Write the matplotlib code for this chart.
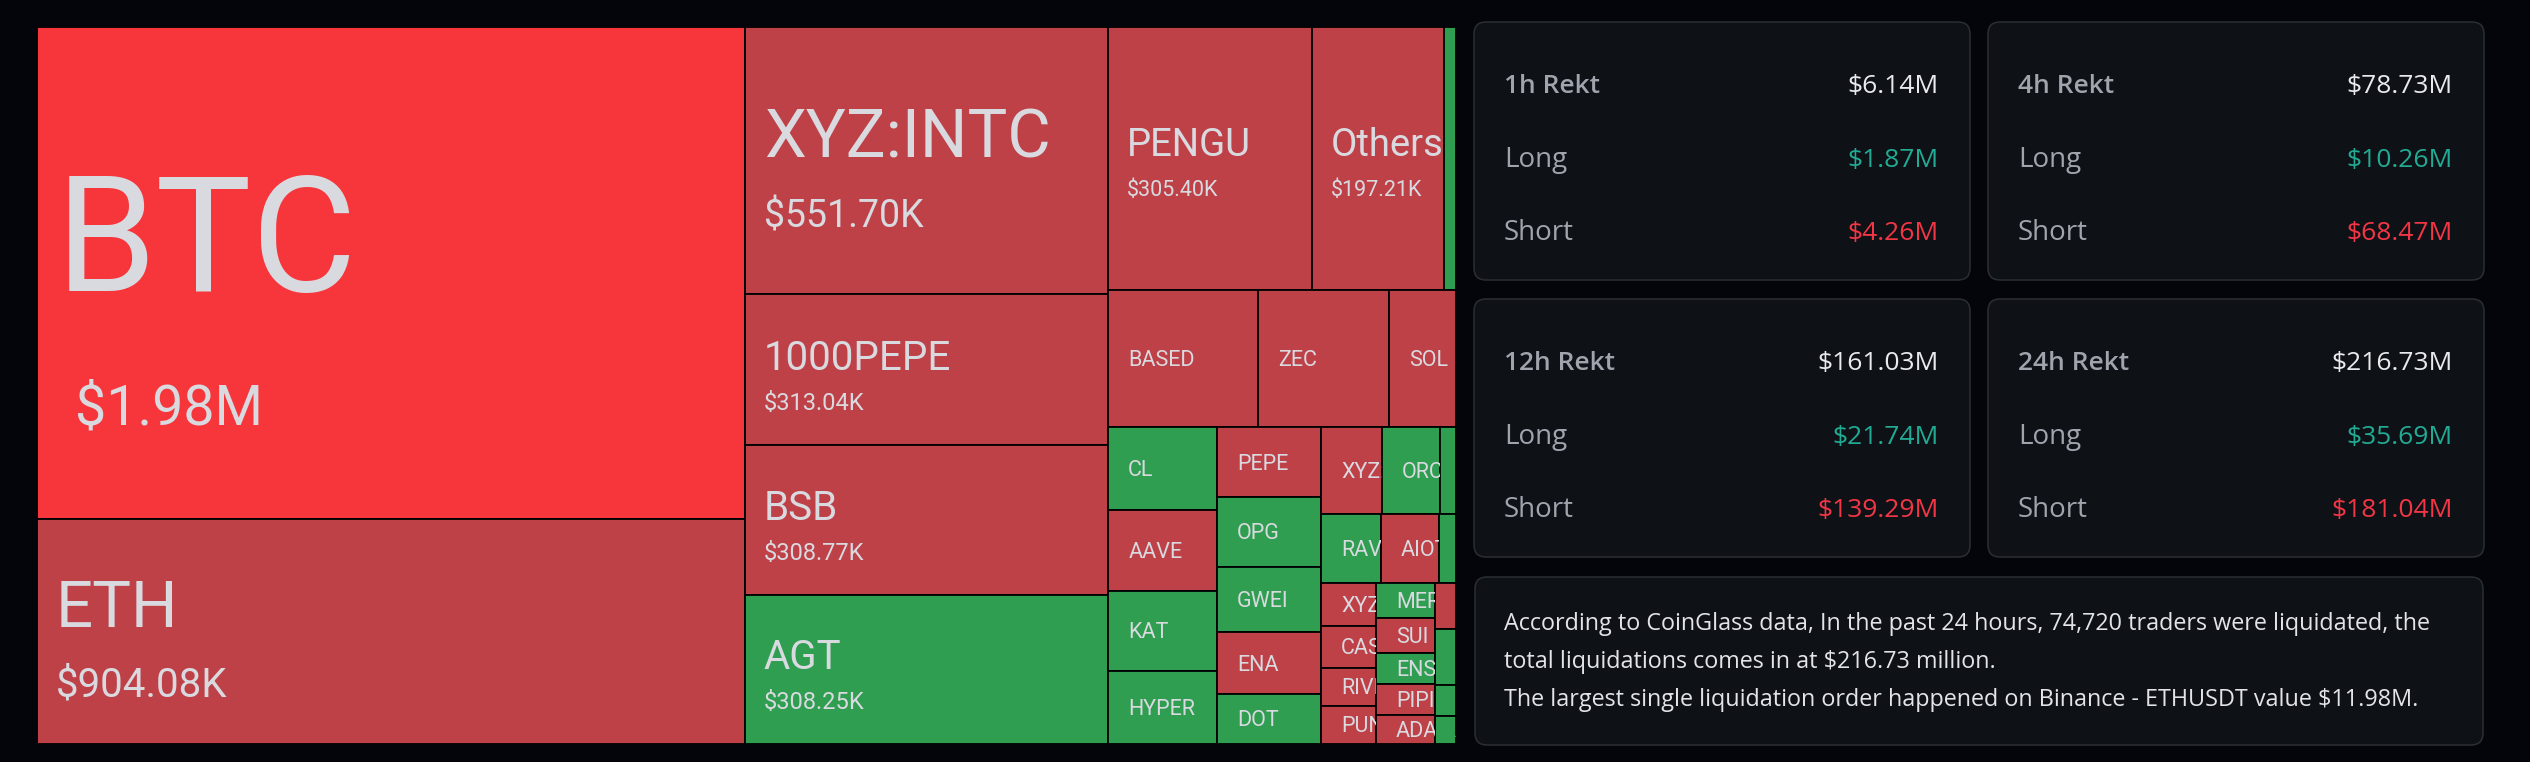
import matplotlib
matplotlib.use("Agg")
import matplotlib.pyplot as plt
from matplotlib.patches import Rectangle, FancyBboxPatch
from matplotlib.font_manager import FontProperties

W, H, DPI = 2530, 762, 100

# ---- treemap data (liquidations in $K) ----
NAMES = ["BTC", "ETH", "XYZ:INTC", "1000PEPE", "BSB", "AGT", "PENGU", "Others", "ARB",
         "BASED", "ZEC", "SOL", "CL", "AAVE", "KAT", "HYPER",
         "PEPE", "OPG", "GWEI", "ENA", "DOT", "XYZ:TSLA", "ORCA", "W",
         "RAVE", "AIOT", "TAO", "XYZ:NVDA", "CASH", "RIVER", "PUNDIX",
         "MERL", "SUI", "ENS", "PIPIN", "ADA", "IP", "1000SHIB", "SPX", "AVAX"]
VALUES_K = [1980, 904.08, 551.70, 313.04, 308.77, 308.25, 305.40, 197.21, 18,
            117, 102, 52, 51, 50.4, 49.2, 45.4,
            41, 41.6, 38.6, 36.2, 29.7, 30, 28.5, 7.9,
            23.6, 22.9, 6.7, 13.2, 13.2, 11.9, 11.9,
            11.8, 11.5, 10.4, 10.4, 9.8, 5.5, 6.6, 3.7, 3.4]
SIDES = ["S", "S", "S", "S", "S", "L", "S", "S", "L",
         "S", "S", "S", "L", "S", "L", "L",
         "S", "L", "L", "S", "L", "S", "L", "L",
         "L", "S", "L", "S", "S", "S", "S",
         "L", "S", "L", "S", "S", "S", "L", "L", "L"]

# nesting of the treemap: ("h", ...) splits left->right, ("v", ...) top->bottom
LAYOUT = ("h", [
    ("v", ["BTC", "ETH"]),
    ("v", ["XYZ:INTC", "1000PEPE", "BSB", "AGT"]),
    ("v", [
        ("h", ["PENGU", "Others", "ARB"]),
        ("h", ["BASED", "ZEC", "SOL"]),
        ("h", [
            ("v", ["CL", "AAVE", "KAT", "HYPER"]),
            ("v", ["PEPE", "OPG", "GWEI", "ENA", "DOT"]),
            ("v", [
                ("h", ["XYZ:TSLA", "ORCA", "W"]),
                ("h", ["RAVE", "AIOT", "TAO"]),
                ("h", [
                    ("v", ["XYZ:NVDA", "CASH", "RIVER", "PUNDIX"]),
                    ("v", ["MERL", "SUI", "ENS", "PIPIN", "ADA"]),
                    ("v", ["IP", "1000SHIB", "SPX", "AVAX"]),
                ]),
            ]),
        ]),
    ]),
])

# ---- rekt cards (in $M) ----
PERIODS = ["1h", "4h", "12h", "24h"]
TOTAL_M = [6.14, 78.73, 161.03, 216.73]
LONG_M = [1.87, 10.26, 21.74, 35.69]
SHORT_M = [4.26, 68.47, 139.29, 181.04]

TRADERS = 74720
TOP_EXCHANGE = "Binance"
TOP_PAIR = "ETHUSDT"
TOP_ORDER_M = 11.98

# label styling for the cells that show a value:
# name: (name pt, value pt, gap px name->value baseline, shift px, extra value indent px)
LABEL_STYLE = {
    "BTC": (116, 40, 133, 18, 19),
    "ETH": (47, 29, 70, -5, 0),
    "XYZ:INTC": (48, 27, 70, -3, 0),
    "1000PEPE": (29, 17, 40, 0, 0),
    "BSB": (29, 17, 40, 0, 0),
    "AGT": (29, 17, 40, 0, 0),
    "PENGU": (27.5, 15.5, 40, -3, 0),
    "Others": (27.5, 15.5, 40, -3, 0),
}
SMALL_PT = 15.5

BG = "#04050a"
RED = "#bf4148"
RED_HOT = "#f6363a"
GREEN = "#2f9e51"
CELL_TXT = "#d9dae0"
PX = 72 / DPI  # points per pixel

value_of = dict(zip(NAMES, VALUES_K))
side_of = dict(zip(NAMES, SIDES))


def node_total(node):
    if isinstance(node, str):
        return value_of[node]
    return sum(node_total(c) for c in node[1])


def slice_dice(node, x0, y0, x1, y1, out):
    if isinstance(node, str):
        out[node] = (x0, y0, x1, y1)
        return
    direction, children = node
    total = node_total(node)
    pos = x0 if direction == "h" else y0
    for c in children:
        frac = node_total(c) / total
        if direction == "h":
            step = (x1 - x0) * frac
            slice_dice(c, pos, y0, pos + step, y1, out)
        else:
            step = (y1 - y0) * frac
            slice_dice(c, x0, pos, x1, pos + step, out)
        pos += step


def fmt_k(v):
    return f"${v / 1000:.2f}M" if v >= 1000 else f"${v:.2f}K"


fig = plt.figure(figsize=(W / DPI, H / DPI), dpi=DPI, facecolor=BG)
renderer = fig.canvas.get_renderer()

# treemap
tl, tt, tr, tb = 37, 27, 1456, 744
ax = fig.add_axes([tl / W, 1 - tb / H, (tr - tl) / W, (tb - tt) / H])
ax.set_xlim(0, 1)
ax.set_ylim(1, 0)
ax.axis("off")

rects = {}
slice_dice(LAYOUT, 0, 0, 1, 1, rects)


def visible_part(s, pt, room):
    # keep the characters that start inside the cell (the cut one is clipped)
    fp = FontProperties(family="Roboto", size=pt)
    n = 0
    while n < len(s):
        start = renderer.get_text_width_height_descent(s[:n], fp, False)[0] if n else 0
        if start >= room - 1:
            break
        n += 1
    return s[:n]


for name in NAMES:
    x0, y0, x1, y1 = rects[name]
    v = value_of[name]
    if side_of[name] == "L":
        color = GREEN
    else:
        color = RED_HOT if v >= 1000 else RED
    cell = Rectangle((x0, y0), x1 - x0, y1 - y0, facecolor=color,
                     edgecolor="#000000", linewidth=1.3)
    ax.add_patch(cell)
    ymid = (y0 + y1) / 2
    cell_w = ax.transData.transform((x1, 0))[0] - ax.transData.transform((x0, 0))[0]
    texts = []
    if name in LABEL_STYLE:
        npt, vpt, gap, dy, vdx = LABEL_STYLE[name]
        texts.append(ax.annotate(visible_part(name, npt, cell_w - 19), (x0, ymid),
                                 xytext=(19 * PX, -dy * PX), textcoords="offset points",
                                 fontsize=npt, family="Roboto", color=CELL_TXT, va="baseline"))
        texts.append(ax.annotate(fmt_k(v), (x0, ymid),
                                 xytext=((19 + vdx) * PX, -(dy + gap) * PX), textcoords="offset points",
                                 fontsize=vpt, family="Roboto", color=CELL_TXT, va="baseline"))
    else:
        shown = visible_part(name, SMALL_PT, cell_w - 20)
        if shown:
            texts.append(ax.annotate(shown, (x0, ymid), xytext=(20 * PX, -7.5 * PX),
                                     textcoords="offset points", fontsize=SMALL_PT,
                                     family="Roboto", color=CELL_TXT, va="baseline"))
    for t in texts:
        t.set_clip_path(cell)

# overlay in pixel units for the cards
ov = fig.add_axes([0, 0, 1, 1])
ov.set_xlim(0, W)
ov.set_ylim(H, 0)
ov.axis("off")
ov.patch.set_alpha(0)

CARD_FILL = "#0e1116"
CARD_EDGE = "#2a2e35"
LABEL_GRAY = "#a0a4ad"
WHITE = "#e8eaed"
LONG_C = "#22ab94"
SHORT_C = "#f23645"
CARD_FONT = "Open Sans"


def card(x, y, w, h):
    ov.add_patch(FancyBboxPatch((x, y), w, h, boxstyle="round,pad=0,rounding_size=12",
                                facecolor=CARD_FILL, edgecolor=CARD_EDGE, linewidth=1.1))


card_x = [1474, 1988]
card_y = [22, 299]
cw, ch = 496, 258
for i, period in enumerate(PERIODS):
    x = card_x[i % 2]
    y = card_y[i // 2]
    card(x, y, cw, ch)
    rows = [(f"{period} Rekt", f"${TOTAL_M[i]:.2f}M", WHITE, "semibold"),
            ("Long", f"${LONG_M[i]:.2f}M", LONG_C, "normal"),
            ("Short", f"${SHORT_M[i]:.2f}M", SHORT_C, "normal")]
    for j, (lab, val, vc, wt) in enumerate(rows):
        by = y + [71, 145, 218][j]
        ov.text(x + 30, by, lab, fontsize=19 if wt == "semibold" else 20, family=CARD_FONT,
                color=LABEL_GRAY, weight=wt, va="baseline", ha="left")
        ov.text(x + cw - 31, by, val, fontsize=19, family=CARD_FONT, color=vc,
                va="baseline", ha="right")

# summary card (multi-line text: baseline anchors the last line)
card(1475, 577, 1008, 168)
summary = "\n".join([
    f"According to CoinGlass data, In the past 24 hours, {TRADERS:,} traders were liquidated, the",
    f"total liquidations comes in at ${TOTAL_M[-1]:.2f} million.",
    f"The largest single liquidation order happened on {TOP_EXCHANGE} - {TOP_PAIR} value ${TOP_ORDER_M:.2f}M.",
])
ov.text(1504, 706, summary, fontsize=16.8, family=CARD_FONT, color="#e2e4e8",
        va="baseline", ha="left", linespacing=1.77)

fig.savefig("out.png", dpi=DPI, facecolor=BG)
